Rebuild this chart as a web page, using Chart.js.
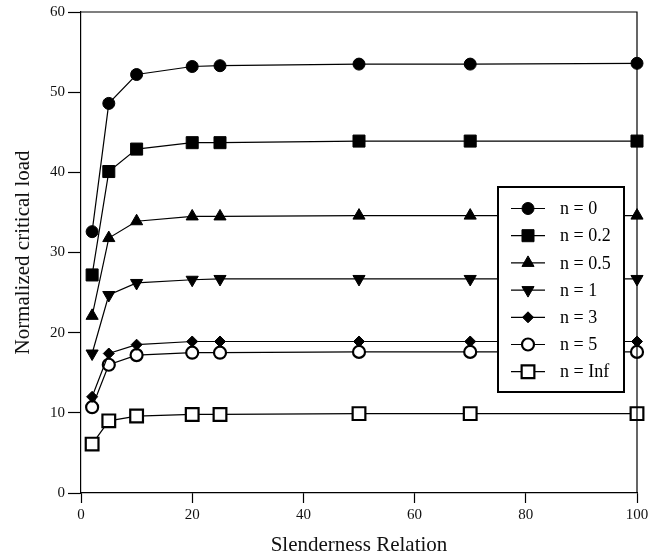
<!DOCTYPE html>
<html>
<head>
<meta charset="utf-8">
<script src="https://cdn.jsdelivr.net/npm/chart.js@4/dist/chart.umd.min.js"></script>
<style>
  html, body { margin: 0; padding: 0; background: #fff; }
  #wrap { width: 658px; height: 558px; }
</style>
</head>
<body>
<div id="wrap"><canvas id="chart" width="658" height="558"></canvas></div>
<script>
const slenderness = [2, 5, 10, 20, 25, 50, 70, 100];
const seriesNames = ['n = 0', 'n = 0.2', 'n = 0.5', 'n = 1', 'n = 3', 'n = 5', 'n = Inf'];
const loadN0 = [32.6, 48.6, 52.2, 53.2, 53.3, 53.5, 53.5, 53.6];
const loadN02 = [27.2, 40.1, 42.9, 43.7, 43.7, 43.9, 43.9, 43.9];
const loadN05 = [22.1, 31.8, 33.9, 34.5, 34.5, 34.6, 34.6, 34.6];
const loadN1 = [17.4, 24.7, 26.2, 26.6, 26.7, 26.7, 26.7, 26.7];
const loadN3 = [12.0, 17.4, 18.5, 18.9, 18.9, 18.9, 18.9, 18.9];
const loadN5 = [10.7, 16.0, 17.2, 17.5, 17.5, 17.6, 17.6, 17.6];
const loadNInf = [6.1, 9.0, 9.6, 9.8, 9.8, 9.9, 9.9, 9.9];

const serif = "'Liberation Serif', 'Times New Roman', serif";

// marker look per series
const markers = [
    { pointStyle: 'circle', radius: 6, rotation: 0, fill: '#000', borderWidth: 1 },
    { pointStyle: 'rect', radius: 8.5, rotation: 0, fill: '#000', borderWidth: 1 },
    { pointStyle: 'triangle', radius: 7, rotation: 0, fill: '#000', borderWidth: 1 },
    { pointStyle: 'triangle', radius: 7, rotation: 180, fill: '#000', borderWidth: 1 },
    { pointStyle: 'rectRot', radius: 5.5, rotation: 0, fill: '#000', borderWidth: 1 },
    { pointStyle: 'circle', radius: 6, rotation: 0, fill: '#fff', borderWidth: 2.2 },
    { pointStyle: 'rect', radius: 9, rotation: 0, fill: '#fff', borderWidth: 2.2 }
];

const allSeries = [loadN0, loadN02, loadN05, loadN1, loadN3, loadN5, loadNInf];

const datasets = allSeries.map((values, i) => ({
    label: seriesNames[i],
    data: values.map((v, j) => ({ x: slenderness[j], y: v })),
    borderColor: '#000',
    borderWidth: 1.2,
    backgroundColor: markers[i].fill,
    pointStyle: markers[i].pointStyle,
    pointRadius: markers[i].radius,
    pointRotation: markers[i].rotation,
    pointBackgroundColor: markers[i].fill,
    pointBorderColor: '#000',
    pointBorderWidth: markers[i].borderWidth,
    pointHoverRadius: markers[i].radius,
    tension: 0,
    clip: false
}));

// frame round the plot area
const frame = {
    id: 'frame',
    afterDatasetsDraw(chart) {
        const { ctx, chartArea: a } = chart;
        ctx.save();
        ctx.strokeStyle = '#000';
        ctx.lineWidth = 1.2;
        ctx.beginPath();
        ctx.moveTo(a.left, a.top);
        ctx.lineTo(a.right, a.top);
        ctx.lineTo(a.right, a.bottom);
        ctx.stroke();
        ctx.restore();
    }
};

// boxed legend inside the plot
const boxLegend = {
    id: 'boxLegend',
    afterDraw(chart) {
        const ctx = chart.ctx;
        const box = { x: 498, y: 187, w: 126, h: 205 };
        ctx.save();
        ctx.fillStyle = '#fff';
        ctx.fillRect(box.x, box.y, box.w, box.h);
        ctx.strokeStyle = '#000';
        ctx.lineWidth = 2;
        ctx.strokeRect(box.x, box.y, box.w, box.h);

        ctx.font = '18px ' + serif;
        ctx.textBaseline = 'middle';
        ctx.textAlign = 'left';
        seriesNames.forEach((name, i) => {
            const y = 208.5 + i * 27.2;
            ctx.strokeStyle = '#000';
            ctx.lineWidth = 1.2;
            ctx.beginPath();
            ctx.moveTo(511, y);
            ctx.lineTo(545, y);
            ctx.stroke();
            const m = markers[i];
            ctx.fillStyle = m.fill;
            ctx.lineWidth = m.borderWidth;
            Chart.helpers.drawPoint(ctx, {
                pointStyle: m.pointStyle,
                radius: m.radius,
                rotation: m.rotation,
                borderWidth: m.borderWidth
            }, 528, y);
            ctx.fillStyle = '#000';
            ctx.fillText(name, 560, y + 1);
        });
        ctx.restore();
    }
};

new Chart(document.getElementById('chart'), {
    type: 'line',
    data: { datasets },
    options: {
        responsive: false,
        animation: false,
        events: [],
        layout: { padding: { top: 12, right: 21, left: 0, bottom: 0 } },
        plugins: {
            legend: { display: false },
            tooltip: { enabled: false }
        },
        scales: {
            x: {
                type: 'linear',
                min: 0,
                max: 100,
                afterFit: scale => { scale.height = 65; },
                ticks: {
                    stepSize: 20,
                    color: '#111',
                    padding: 3,
                    maxRotation: 0,
                    font: { family: serif, size: 15 }
                },
                grid: {
                    drawOnChartArea: false,
                    drawTicks: true,
                    tickLength: 10,
                    tickColor: '#000',
                    tickWidth: 1.2
                },
                border: { display: true, color: '#000', width: 1.2 },
                title: {
                    display: true,
                    text: 'Slenderness Relation',
                    color: '#111',
                    padding: { top: 0, bottom: 0 },
                    font: { family: serif, size: 21 }
                }
            },
            y: {
                min: 0,
                max: 60,
                afterFit: scale => { scale.width = 81; },
                ticks: {
                    stepSize: 10,
                    color: '#111',
                    padding: 3,
                    font: { family: serif, size: 15 }
                },
                grid: {
                    drawOnChartArea: false,
                    drawTicks: true,
                    tickLength: 13,
                    tickColor: '#000',
                    tickWidth: 1.2
                },
                border: { display: true, color: '#000', width: 1.2 },
                title: {
                    display: true,
                    text: 'Normalized critical load',
                    color: '#111',
                    padding: { top: 11, bottom: 0 },
                    font: { family: serif, size: 21 }
                }
            }
        }
    },
    plugins: [frame, boxLegend]
});
</script>
</body>
</html>
